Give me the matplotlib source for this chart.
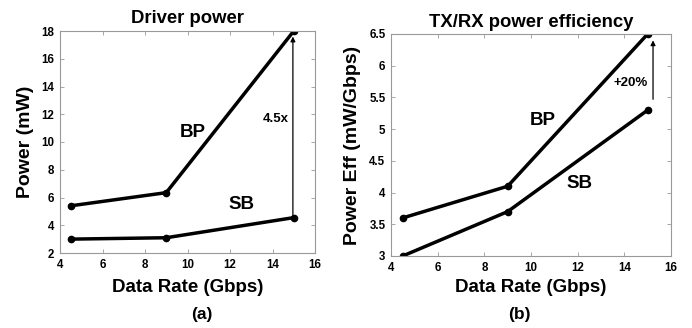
import matplotlib
matplotlib.use("Agg")
import matplotlib.pyplot as plt

plt.rcParams['font.family'] = ['Liberation Sans', 'DejaVu Sans']
plt.rcParams['font.weight'] = 'bold'

rate = [4.5, 9, 15]
drv_bp = [5.4, 6.35, 18.0]
drv_sb = [3.0, 3.1, 4.55]
eff_bp = [3.6, 4.1, 6.5]
eff_sb = [3.0, 3.7, 5.3]

fig = plt.figure(figsize=(6.92, 3.28), dpi=100)
ax1 = fig.add_axes([60/692, 1-253/328, 255/692, 222/328])
ax2 = fig.add_axes([391/692, 1-256/328, 280/692, 222/328])

def style(ax):
    for s in ax.spines.values():
        s.set_color('#999999')
        s.set_linewidth(0.8)
    ax.tick_params(direction='in', top=True, right=True, length=3, width=0.6,
                   color='#999999', labelsize=8.3, labelcolor='black', pad=4)
    for lab in ax.get_xticklabels() + ax.get_yticklabels():
        lab.set_fontweight('bold')

for ys in (drv_bp, drv_sb):
    ax1.plot(rate, ys, color='black', lw=2.5, marker='o', ms=4.5)
ax1.set_xlim(4, 16)
ax1.set_ylim(2, 18)
ax1.set_xticks(range(4, 17, 2))
ax1.set_yticks(range(2, 19, 2))
style(ax1)
ax1.set_title('Driver power', fontsize=13.3, fontweight='bold', pad=6)
ax1.set_xlabel('Data Rate (Gbps)', fontsize=13.5, fontweight='bold', labelpad=6)
ax1.set_ylabel('Power (mW)', fontsize=14, fontweight='bold', labelpad=5)
ax1.text(10.26, 10.7, 'BP', fontsize=13.5, fontweight='bold', ha='center', va='center')
ax1.text(12.56, 5.46, 'SB', fontsize=13.5, fontweight='bold', ha='center', va='center')
ax1.text(14.16, 11.66, '4.5x', fontsize=9.5, fontweight='bold', ha='center', va='center')
ax1.annotate('', xy=(14.96, 17.6), xytext=(14.96, 4.6),
             arrowprops=dict(arrowstyle='-|>', color='black', lw=0.9,
                             mutation_scale=7, shrinkA=0, shrinkB=0))

for ys in (eff_bp, eff_sb):
    ax2.plot(rate, ys, color='black', lw=2.5, marker='o', ms=4.5)
ax2.set_xlim(4, 16)
ax2.set_ylim(3, 6.5)
ax2.set_xticks(range(4, 17, 2))
ax2.set_yticks([3, 3.5, 4, 4.5, 5, 5.5, 6, 6.5])
ax2.set_yticklabels(['3', '3.5', '4', '4.5', '5', '5.5', '6', '6.5'])
style(ax2)
ax2.set_title('TX/RX power efficiency', fontsize=13.3, fontweight='bold', pad=5)
ax2.set_xlabel('Data Rate (Gbps)', fontsize=13.5, fontweight='bold', labelpad=4)
ax2.set_ylabel('Power Eff (mW/Gbps)', fontsize=14, fontweight='bold', labelpad=6)
ax2.text(10.51, 5.14, 'BP', fontsize=13.5, fontweight='bold', ha='center', va='center')
ax2.text(12.06, 4.15, 'SB', fontsize=13.5, fontweight='bold', ha='center', va='center')
ax2.text(14.29, 5.73, '+20%', fontsize=9.5, fontweight='bold', ha='center', va='center')
ax2.annotate('', xy=(15.23, 6.4), xytext=(15.23, 5.47),
             arrowprops=dict(arrowstyle='-|>', color='black', lw=0.9,
                             mutation_scale=7, shrinkA=0, shrinkB=0))

fig.text(202/692, 1-315/328, '(a)', fontsize=12.5, fontweight='bold', ha='center', va='center')
fig.text(519/692, 1-315/328, '(b)', fontsize=12.5, fontweight='bold', ha='center', va='center')

fig.savefig('out.png', dpi=100)
